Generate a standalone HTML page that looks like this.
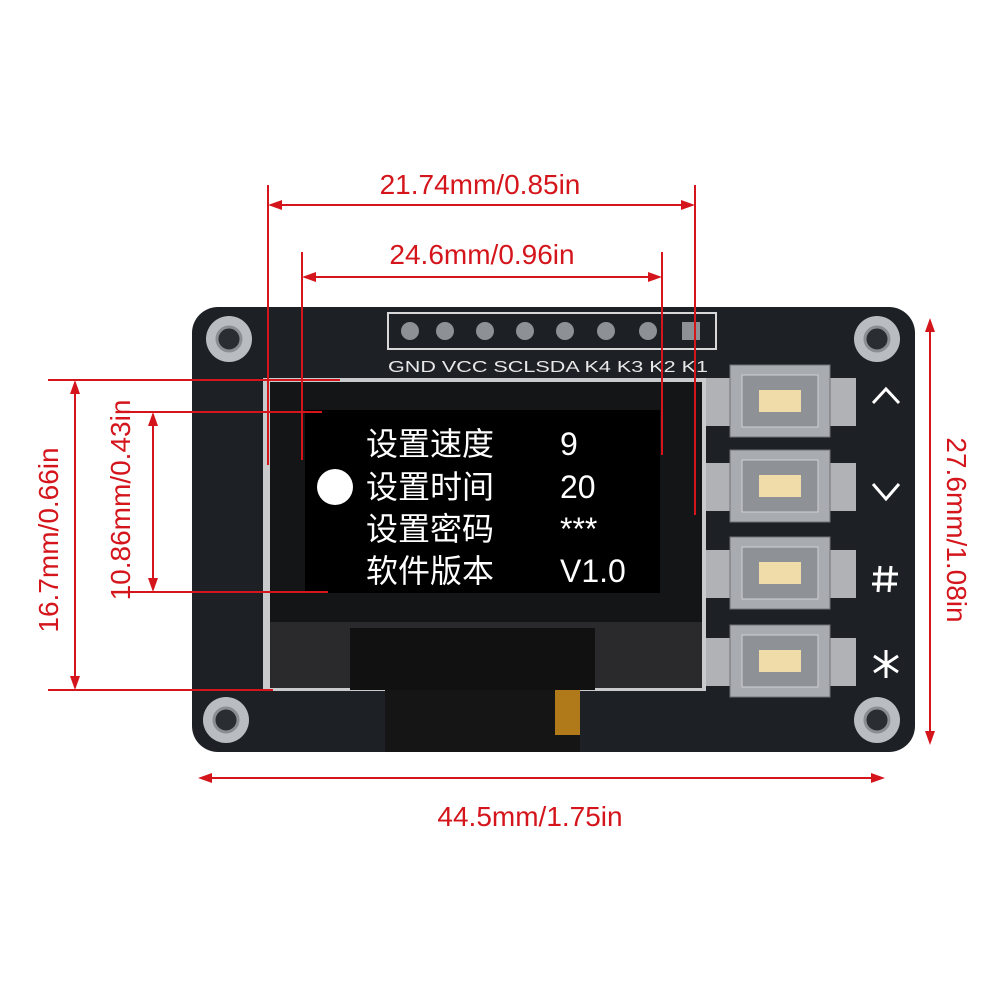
<!DOCTYPE html>
<html><head><meta charset="utf-8"><style>
body{margin:0;background:#fff}
svg text{font-family:"Liberation Sans","Noto Sans CJK SC",sans-serif}
</style></head><body>
<svg width="1000" height="1000" viewBox="0 0 1000 1000" xmlns="http://www.w3.org/2000/svg">
<rect x="192" y="307" width="723" height="445" rx="26" fill="#1d2025"/>
<g fill="#b9bcc0"><circle cx="229" cy="339" r="23"/><circle cx="877" cy="339" r="23"/><circle cx="226" cy="720" r="23"/><circle cx="877" cy="720" r="23"/></g>
<g fill="#2a2d31" stroke="#8a8d92" stroke-width="3"><circle cx="229" cy="339" r="12"/><circle cx="877" cy="339" r="12"/><circle cx="226" cy="720" r="12"/><circle cx="877" cy="720" r="12"/></g>
<rect x="388" y="313" width="328" height="36" fill="none" stroke="#d8d8d8" stroke-width="2"/>
<g fill="#8d9095"><circle cx="410" cy="331" r="9"/><circle cx="445" cy="331" r="9"/><circle cx="485" cy="331" r="9"/><circle cx="525" cy="331" r="9"/><circle cx="565" cy="331" r="9"/><circle cx="606" cy="331" r="9"/><circle cx="648" cy="331" r="9"/><rect x="682" y="322" width="18" height="18"/></g>
<text x="388" y="372" fill="#e8e8e8" font-size="16" textLength="320" lengthAdjust="spacingAndGlyphs">GND VCC SCLSDA K4 K3 K2 K1</text>
<rect x="263" y="378" width="443" height="313" fill="#c8cacc"/>
<rect x="270" y="382" width="432" height="240" fill="#141517"/>
<rect x="270" y="622" width="432" height="66" fill="#2a2a2c"/>
<rect x="350" y="628" width="245" height="62" fill="#111"/>
<rect x="385" y="690" width="195" height="62" fill="#151515"/>
<rect x="555" y="690" width="25" height="45" fill="#b07a1a"/>
<rect x="305" y="410" width="355" height="183" fill="#000"/>
<circle cx="335" cy="487" r="18" fill="#fff"/>
<g fill="#fff" font-size="32">
<text x="366" y="455">设置速度</text><text x="560" y="455">9</text>
<text x="366" y="498">设置时间</text><text x="560" y="498">20</text>
<text x="366" y="540">设置密码</text><text x="560" y="540">***</text>
<text x="366" y="582">软件版本</text><text x="560" y="582">V1.0</text>
</g>
<g>
<g transform="translate(0,0)"><rect x="706" y="378" width="150" height="48" fill="#b0b2b5"/><rect x="730" y="365" width="100" height="72" fill="#a8abaf" stroke="#6f7276"/><rect x="742" y="375" width="76" height="52" fill="#8e9196" stroke="#d0d2d4"/><rect x="759" y="390" width="42" height="22" fill="#f0dca8"/></g>
<g transform="translate(0,85)"><rect x="706" y="378" width="150" height="48" fill="#b0b2b5"/><rect x="730" y="365" width="100" height="72" fill="#a8abaf" stroke="#6f7276"/><rect x="742" y="375" width="76" height="52" fill="#8e9196" stroke="#d0d2d4"/><rect x="759" y="390" width="42" height="22" fill="#f0dca8"/></g>
<g transform="translate(0,172)"><rect x="706" y="378" width="150" height="48" fill="#b0b2b5"/><rect x="730" y="365" width="100" height="72" fill="#a8abaf" stroke="#6f7276"/><rect x="742" y="375" width="76" height="52" fill="#8e9196" stroke="#d0d2d4"/><rect x="759" y="390" width="42" height="22" fill="#f0dca8"/></g>
<g transform="translate(0,260)"><rect x="706" y="378" width="150" height="48" fill="#b0b2b5"/><rect x="730" y="365" width="100" height="72" fill="#a8abaf" stroke="#6f7276"/><rect x="742" y="375" width="76" height="52" fill="#8e9196" stroke="#d0d2d4"/><rect x="759" y="390" width="42" height="22" fill="#f0dca8"/></g>
</g>
<g stroke="#fff" stroke-width="3" fill="none"><path d="M873 403 L886 389 L899 403"/><path d="M873 484 L886 499 L899 484"/><path d="M880 566 L878 592 M891 566 L889 592 M873 574 L898 574 M872 584 L897 584"/><path d="M886 650 L886 678 M874 656 L898 672 M874 672 L898 656"/></g>
<g stroke="#d4161c" stroke-width="2" fill="#d4161c">
<line x1="268" y1="185" x2="268" y2="465"/><line x1="695" y1="185" x2="695" y2="515"/>
<line x1="272" y1="205" x2="691" y2="205"/><path d="M268 205 l14 -5 v10z M695 205 l-14 -5 v10z" stroke="none"/>
<line x1="302" y1="252" x2="302" y2="460"/><line x1="662" y1="252" x2="662" y2="455"/>
<line x1="306" y1="277" x2="658" y2="277"/><path d="M302 277 l14 -5 v10z M662 277 l-14 -5 v10z" stroke="none"/>
<line x1="48" y1="380" x2="340" y2="380"/><line x1="48" y1="690" x2="273" y2="690"/>
<line x1="75" y1="384" x2="75" y2="686"/><path d="M75 380 l-5 14 h10z M75 690 l-5 -14 h10z" stroke="none"/>
<line x1="130" y1="412" x2="322" y2="412"/><line x1="130" y1="592" x2="328" y2="592"/>
<line x1="153" y1="416" x2="153" y2="588"/><path d="M153 412 l-5 14 h10z M153 592 l-5 -14 h10z" stroke="none"/>
<line x1="930" y1="322" x2="930" y2="741"/><path d="M930 318 l-5 14 h10z M930 745 l-5 -14 h10z" stroke="none"/>
<line x1="202" y1="778" x2="881" y2="778"/><path d="M198 778 l14 -5 v10z M885 778 l-14 -5 v10z" stroke="none"/>
</g>
<g fill="#d4161c" font-size="28">
<text x="480" y="194" text-anchor="middle">21.74mm/0.85in</text>
<text x="482" y="264" text-anchor="middle">24.6mm/0.96in</text>
<text x="530" y="826" text-anchor="middle">44.5mm/1.75in</text>
<text transform="translate(58,540) rotate(-90)" text-anchor="middle">16.7mm/0.66in</text>
<text transform="translate(130,500) rotate(-90)" text-anchor="middle">10.86mm/0.43in</text>
<text transform="translate(947,530) rotate(90)" text-anchor="middle">27.6mm/1.08in</text>
</g>
</svg>
</body></html>
